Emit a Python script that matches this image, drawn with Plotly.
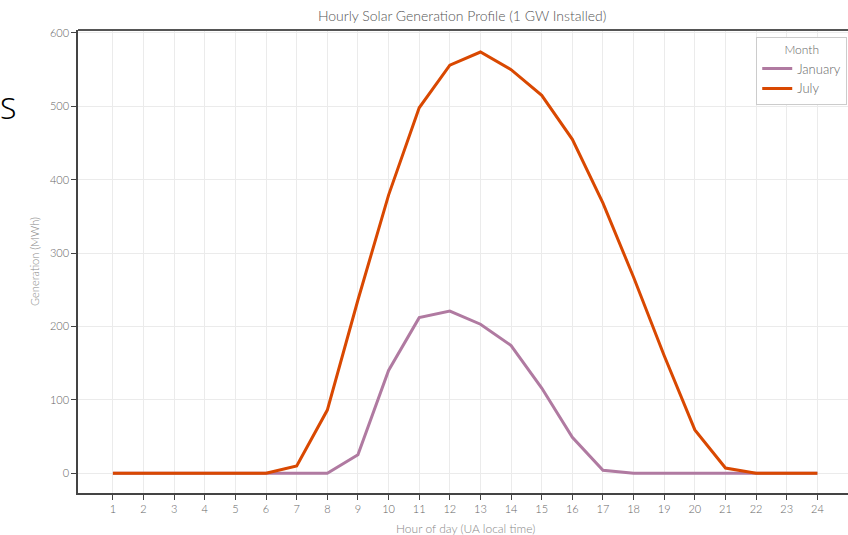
import plotly.graph_objects as go

hours = list(range(1, 25))
january = [0, 0, 0, 0, 0, 0, 0, 0, 25, 140, 212, 221, 203, 174, 116, 49, 4, 0, 0, 0, 0, 0, 0, 0]
july = [0, 0, 0, 0, 0, 0, 10, 86, 236, 379, 498, 556, 574, 550, 515, 455, 368, 267, 160, 59, 7, 0, 0, 0]
y_ticks = [0, 100, 200, 300, 400, 500, 600]

FONT = "Lato"
fig = go.Figure()
fig.add_trace(go.Scatter(x=hours, y=january, mode="lines", name="January",
                         line=dict(color="#b07aa1", width=3)))
fig.add_trace(go.Scatter(x=hours, y=july, mode="lines", name="July",
                         line=dict(color="#d94801", width=3)))

fig.update_layout(
    width=848, height=535,
    margin=dict(l=78, r=0, t=30, b=42, autoexpand=False),
    paper_bgcolor="white", plot_bgcolor="white",
    font=dict(family=FONT, color="#666", size=11, weight=300),
    title=dict(text="Hourly Solar Generation Profile (1 GW Installed)", x=0.545, xanchor="center",
               y=0.97, yanchor="middle", font=dict(size=14, color="#555", family=FONT, weight=300)),
    legend=dict(title=dict(text="Month", side="top center", font=dict(size=12, color="#666")),
                x=0.999, xanchor="right", y=0.985, yanchor="top",
                bordercolor="#ccc", borderwidth=1, bgcolor="white",
                font=dict(size=13, color="#666"), itemwidth=30),
    showlegend=True,
)
fig.update_xaxes(range=[-0.14, 25.0], tickvals=hours, ticktext=[str(h) for h in hours],
                 showgrid=True, gridcolor="#ebebeb", showline=True, linecolor="#444", linewidth=1.5,
                 ticks="outside", ticklen=5, tickcolor="#444", zeroline=False, automargin=False)
fig.update_yaxes(range=[-27, 604], tickvals=y_ticks,
                 showgrid=True, gridcolor="#ebebeb", showline=True, linecolor="#444", linewidth=1.5,
                 ticks="outside", ticklen=5, tickcolor="#444", zeroline=False, mirror=False, automargin=False,
                 title=dict(text="Generation (MWh)", font=dict(size=11, color="#888"), standoff=8))
fig.add_annotation(text="Hour of day (UA local time)", xref="paper", yref="paper",
                   x=0.503, y=-0.076, xanchor="center", yanchor="middle", showarrow=False,
                   font=dict(size=12, color="#888"))
# top border line
fig.add_shape(type="line", xref="paper", yref="paper", x0=0, x1=1, y0=1, y1=1,
              line=dict(color="#555", width=2))
fig.add_annotation(text="S", xref="paper", yref="paper", x=-0.0909, y=0.832,
                   xanchor="center", yanchor="middle", showarrow=False,
                   font=dict(size=30, color="black", family="Noto Sans"))
fig.write_html("out.html", config={"displayModeBar": False},
               post_script="document.body.style.margin='0';document.body.style.overflow='hidden';")
